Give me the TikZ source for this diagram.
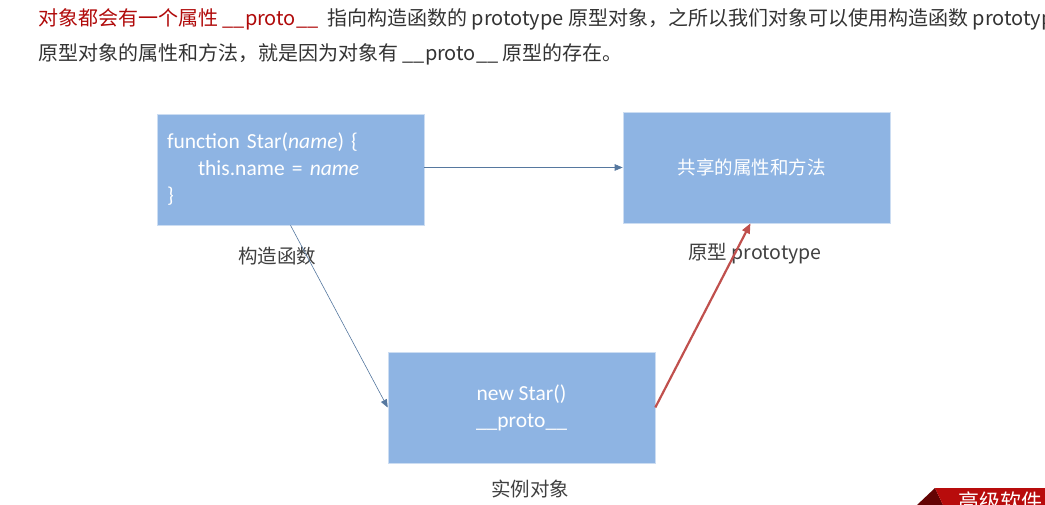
\documentclass[tikz,border=0pt]{standalone}
\usepackage{fontspec}
\setmainfont{Carlito}
\newfontfamily\cjk{Noto Sans CJK SC}
\usetikzlibrary{arrows.meta}
\definecolor{boxblue}{HTML}{8EB4E3}
\definecolor{linkblue}{HTML}{56789F}
\definecolor{protored}{HTML}{C0504D}
\definecolor{notered}{HTML}{B00A0A}
\definecolor{notegray}{HTML}{333333}
\definecolor{labelgray}{HTML}{404040}
\definecolor{bannerred}{HTML}{B80C0C}
\definecolor{bannerdark}{HTML}{640404}

\begin{document}
\begin{tikzpicture}[x=1pt, y=-1pt]
\useasboundingbox (0,0) rectangle (1045,505);
\clip (0,0) rectangle (1045,505);
% note above the diagram
\begin{scope}[every node/.style={anchor=base west, inner sep=0pt, font=\cjk\fontsize{20}{24}\selectfont}]
    \node[text=notered] (note1a) at (38,25.5) {对象都会有一个属性 \_\_proto\_\_};
    \node[text=notegray] (note1b) at (327,25.5) {指向构造函数的 prototype 原型对象，之所以我们对象可以使用构造函数 prototype};
    \node[text=notegray] (note2) at (38,60.5) {原型对象的属性和方法，就是因为对象有 \_\_proto\_\_ 原型的存在。};
\end{scope}
% boxes
\begin{scope}[every node/.style={fill=boxblue, draw=white!55!boxblue, line width=0.6pt, minimum width=267pt, minimum height=111pt, inner xsep=10pt, text=white, font=\fontsize{21.5}{27}\selectfont}]
    \node[align=left, text width=247pt] (ctor) at (290.5,169.5) {function Star(\textit{name}) \{\\\hspace*{31pt}this.name = \textit{name}\\\}};
    \node[font=\cjk\fontsize{18.5}{22}\selectfont] (proto) at (756.5,167.5) {共享的属性和方法\hspace*{10pt}};
    \node[align=center] (inst) at (521.5,407.5) {new Star()\\\_\_proto\_\_};
\end{scope}
% captions
\begin{scope}[every node/.style={inner sep=0pt, text=labelgray, font=\cjk\fontsize{19.5}{24}\selectfont}]
    \node (ctorlabel) at (277,256) {构造函数};
    \node (protolabel) at (755,254) {原型 prototype};
    \node (instlabel) at (530,489) {实例对象};
\end{scope}
% links
\begin{scope}[>={Triangle[length=8pt, width=6.5pt]}, every edge/.style={draw=linkblue, line width=0.6pt}]
    \path [->] (ctor.east |- proto.west) edge (proto.west);
    \path [->] (ctor.south) edge (inst.west);
\end{scope}
\draw [->, >={Triangle[length=10pt, width=8pt]}, draw=protored, line width=2.2pt] (inst.east) -- ([xshift=-6pt]proto.south);
% banner
\fill[bannerdark] (917,505) -- (935,488) -- (943,505) -- cycle;
\fill[bannerred] (935,488) -- (1045,488) -- (1045,505) -- (943,505) -- cycle;
\node[anchor=north west, inner sep=0pt, text=white, font=\cjk\fontsize{21}{24}\selectfont] (bannertext) at (958,492) {高级软件};
\end{tikzpicture}
\end{document}
